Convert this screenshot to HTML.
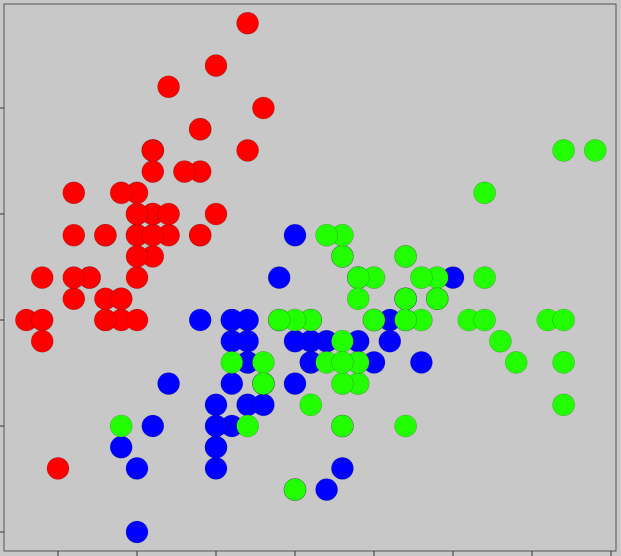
<!DOCTYPE html>
<html><head><meta charset="utf-8"><style>
html,body{margin:0;padding:0;background:#c8c8c8;}
svg{display:block;}
</style></head><body>
<svg id="chart" width="621" height="556" xmlns="http://www.w3.org/2000/svg">
<rect x="0" y="0" width="621" height="556" fill="#c8c8c8"/>
<rect x="4" y="4" width="612" height="547" fill="#c8c8c8" stroke="#555" stroke-width="1"/>
<g id="ticks"></g>
<g id="points"></g>
</svg>
<script>
const xTicks=[4.5,5,5.5,6,6.5,7,7.5,8];
const yTicks=[2,2.5,3,3.5,4];
const setosaX=[5.1,4.9,4.7,4.6,5.0,5.4,4.6,5.0,4.4,4.9,5.4,4.8,4.8,4.3,5.8,5.7,5.4,5.1,5.7,5.1,5.4,5.1,4.6,5.1,4.8,5.0,5.0,5.2,5.2,4.7,4.8,5.4,5.2,5.5,4.9,5.0,5.5,4.9,4.4,5.1,5.0,4.5,4.4,5.0,5.1,4.8,5.1,4.6,5.3,5.0];
const setosaY=[3.5,3.0,3.2,3.1,3.6,3.9,3.4,3.4,2.9,3.1,3.7,3.4,3.0,3.0,4.0,4.4,3.9,3.5,3.8,3.8,3.4,3.7,3.6,3.3,3.4,3.0,3.4,3.5,3.4,3.2,3.1,3.4,4.1,4.2,3.1,3.2,3.5,3.6,3.0,3.4,3.5,2.3,3.2,3.5,3.8,3.0,3.8,3.2,3.7,3.3];
const versiX=[7.0,6.4,6.9,5.5,6.5,5.7,6.3,4.9,6.6,5.2,5.0,5.9,6.0,6.1,5.6,6.7,5.6,5.8,6.2,5.6,5.9,6.1,6.3,6.1,6.4,6.6,6.8,6.7,6.0,5.7,5.5,5.5,5.8,6.0,5.4,6.0,6.7,6.3,5.6,5.5,5.5,6.1,5.8,5.0,5.6,5.7,5.7,6.2,5.1,5.7];
const versiY=[3.2,3.2,3.1,2.3,2.8,2.8,3.3,2.4,2.9,2.7,2.0,3.0,2.2,2.9,2.9,3.1,3.0,2.7,2.2,2.5,3.2,2.8,2.5,2.8,2.9,3.0,2.8,3.0,2.9,2.6,2.4,2.4,2.7,2.7,3.0,3.4,3.1,2.3,3.0,2.5,2.6,3.0,2.6,2.3,2.7,3.0,2.9,2.9,2.5,2.8];
const virgX=[6.3,5.8,7.1,6.3,6.5,7.6,4.9,7.3,6.7,7.2,6.5,6.4,6.8,5.7,5.8,6.4,6.5,7.7,7.7,6.0,6.9,5.6,7.7,6.3,6.7,7.2,6.2,6.1,6.4,7.2,7.4,7.9,6.4,6.3,6.1,7.7,6.3,6.4,6.0,6.9,6.7,6.9,5.8,6.8,6.7,6.7,6.3,6.5,6.2,5.9];
const virgY=[3.3,2.7,3.0,2.9,3.0,3.0,2.5,2.9,2.5,3.6,3.2,2.7,3.0,2.5,2.8,3.2,3.0,3.8,2.6,2.2,3.2,2.8,2.8,2.7,3.3,3.2,2.8,3.0,2.8,3.0,2.8,3.8,2.8,2.8,2.6,3.0,3.4,3.1,3.0,3.1,3.1,3.1,2.7,3.2,3.3,3.0,2.5,3.0,3.4,3.0];
function xs(v){return 58+(v-4.5)*158;}
function ys(v){return 320-(v-3)*212;}
const NS="http://www.w3.org/2000/svg";
const tg=document.getElementById('ticks');
xTicks.forEach(t=>{
  const l=document.createElementNS(NS,'line');
  l.setAttribute('x1',xs(t));l.setAttribute('x2',xs(t));l.setAttribute('y1',551);l.setAttribute('y2',557);
  l.setAttribute('stroke','#333');
  
  
  tg.appendChild(l);
});
yTicks.forEach(t=>{
  const l=document.createElementNS(NS,'line');
  l.setAttribute('x1',-2);l.setAttribute('x2',4);l.setAttribute('y1',ys(t));l.setAttribute('y2',ys(t));
  l.setAttribute('stroke','#333');
  
  
  tg.appendChild(l);
});
const pg=document.getElementById('points');
function draw(X,Y,color,name){
  X.forEach((v,i)=>{
    const c=document.createElementNS(NS,'circle');
    c.setAttribute('cx',xs(v));c.setAttribute('cy',ys(Y[i]));c.setAttribute('r',11);
    c.setAttribute('fill',color);c.setAttribute('stroke','rgba(0,0,0,0.25)');c.setAttribute('stroke-width','0.6');
    
    
    pg.appendChild(c);
  });
}
draw(setosaX,setosaY,'#ff0000','setosa-point');
draw(versiX,versiY,'#0000ff','versicolor-point');
draw(virgX,virgY,'#22ff00','virginica-point');
</script>
</body></html>
